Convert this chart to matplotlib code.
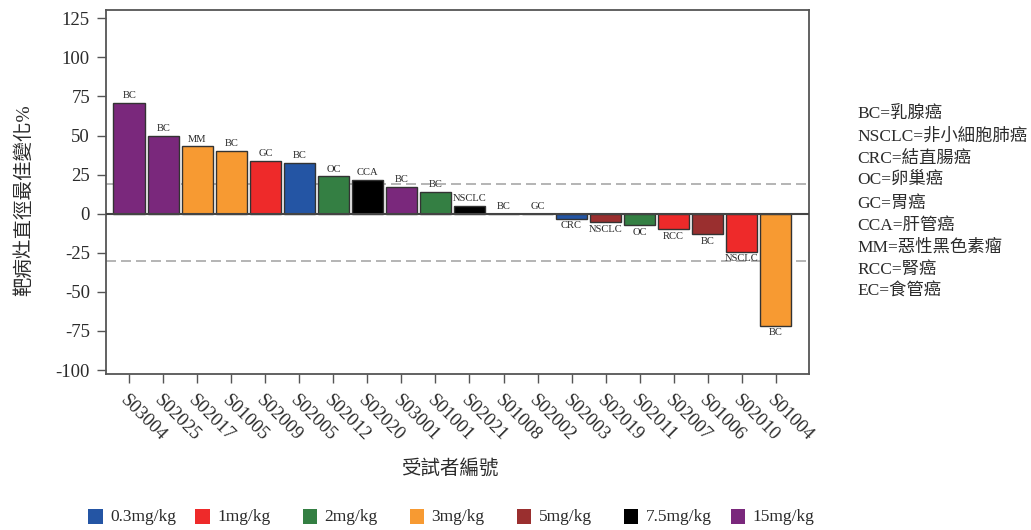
import matplotlib
matplotlib.use("Agg")
import matplotlib.pyplot as plt
from matplotlib.patches import Rectangle

plt.rcParams['font.family'] = ['Liberation Serif', 'Noto Sans CJK TC', 'DejaVu Sans']
plt.rcParams['axes.unicode_minus'] = False

# Per-subject best change in target-lesion diameter (%)
subjects = ['S03004', 'S02025', 'S02017', 'S01005', 'S02009', 'S02005', 'S02012',
            'S02020', 'S03001', 'S01001', 'S02021', 'S01008', 'S02002', 'S02003',
            'S02019', 'S02011', 'S02007', 'S01006', 'S02010', 'S01004']
changes = [71, 50, 43, 40.4, 34, 32.5, 24, 21.8, 17.3, 13.9, 5.1, 0, 0,
           -3.4, -5.5, -7.5, -9.8, -13.3, -24.5, -71.8]
tumor_types = ['BC', 'BC', 'MM', 'BC', 'GC', 'BC', 'OC', 'CCA', 'BC', 'BC', 'NSCLC',
               'BC', 'GC', 'CRC', 'NSCLC', 'OC', 'RCC', 'BC', 'NSCLC', 'BC']
subject_doses = ['15mg/kg', '15mg/kg', '3mg/kg', '3mg/kg', '1mg/kg', '0.3mg/kg', '2mg/kg',
                 '7.5mg/kg', '15mg/kg', '2mg/kg', '7.5mg/kg', '5mg/kg', '1mg/kg',
                 '0.3mg/kg', '5mg/kg', '2mg/kg', '1mg/kg', '5mg/kg', '1mg/kg', '3mg/kg']

# Dose groups and their colours
doses = ['0.3mg/kg', '1mg/kg', '2mg/kg', '3mg/kg', '5mg/kg', '7.5mg/kg', '15mg/kg']
dose_colors = ['#2455A4', '#EE2A2A', '#347F43', '#F79A32', '#9A2F2F', '#000000', '#7A287C']

# Abbreviation key
abbrev_key = ['BC=乳腺癌', 'NSCLC=非小細胞肺癌', 'CRC=結直腸癌', 'OC=卵巢癌', 'GC=胃癌',
              'CCA=肝管癌', 'MM=惡性黑色素瘤', 'RCC=腎癌', 'EC=食管癌']

# Reference thresholds (%)
thresholds = [19, -30]

yticks = [-100, -75, -50, -25, 0, 25, 50, 75, 100, 125]

W, H = 1031, 530
fig = plt.figure(figsize=(W / 100, H / 100), dpi=100)
ax = fig.add_axes([106 / W, 1 - 374.3 / H, (809 - 106) / W, (374.3 - 10) / H])

text_color = '#2b2b2b'
spine_color = '#555555'
color_map = dict(zip(doses, dose_colors))
x = list(range(len(subjects)))
bar_colors = [color_map[d] for d in subject_doses]

ax.bar(x, changes, width=0.93, color=bar_colors, edgecolor='#333333',
       linewidth=1.0, zorder=2)

for xi, v, t in zip(x, changes, tumor_types):
    if v >= 0:
        ax.annotate(t, (xi, v), xytext=(0, 2.5), textcoords='offset pixels',
                    ha='center', va='bottom', fontsize=7.6, color=text_color, zorder=4)
    else:
        ax.annotate(t, (xi, v), xytext=(0, -2.5), textcoords='offset pixels',
                    ha='center', va='top', fontsize=7.6, color=text_color, zorder=4)

ax.axhline(0, color='#444444', linewidth=1.5, zorder=3)
for th in thresholds:
    ax.axhline(th, color='#A8A8A8', linewidth=1.2, dashes=(6, 3), zorder=1)

ax.set_xlim(-0.685, 19.98)
ax.set_ylim(-102.75, 130.3)
ax.set_yticks(yticks)
ax.set_yticklabels([str(v) for v in yticks])
ax.set_xticks(x)
ax.set_xticklabels(subjects, rotation=-45, ha='left', va='top',
                   rotation_mode='anchor')

ax.tick_params(axis='both', direction='out', length=6.5, width=1.0,
               color=spine_color, labelcolor=text_color, labelsize=13.5, pad=5)
ax.tick_params(axis='x', labelsize=13.5, pad=6)

for s in ax.spines.values():
    s.set_color(spine_color)
    s.set_linewidth(1.3)

ax.set_xlabel('受試者編號', fontsize=14, color=text_color)
ax.xaxis.set_label_coords((450 - 106) / 703, (374.3 - 468) / 364.3)
ax.xaxis.label.set_va('center')
ax.set_ylabel('靶病灶直徑最佳變化%', fontsize=14, color=text_color)
ax.yaxis.set_label_coords((24 - 106) / 703, (374.3 - 200) / 364.3)
ax.yaxis.label.set_va('center')

# Abbreviation key on the right
for i, line in enumerate(abbrev_key):
    fig.text(857 / W, 1 - (115 + 22.1 * i) / H, line, fontsize=12.5,
             color=text_color, ha='left', va='center')

# Dose legend along the bottom
sq = 14.5
for i, (d, c) in enumerate(zip(doses, dose_colors)):
    x0 = 88.3 + 107.1 * i
    yc = 516.7
    fig.add_artist(Rectangle((x0 / W, 1 - (yc + sq / 2) / H), sq / W, sq / H,
                             transform=fig.transFigure, facecolor=c,
                             edgecolor='none'))
    fig.text((x0 + sq + 7.5) / W, 1 - yc / H, d, fontsize=12.5,
             color=text_color, ha='left', va='center')

fig.savefig('out.png', dpi=100)
